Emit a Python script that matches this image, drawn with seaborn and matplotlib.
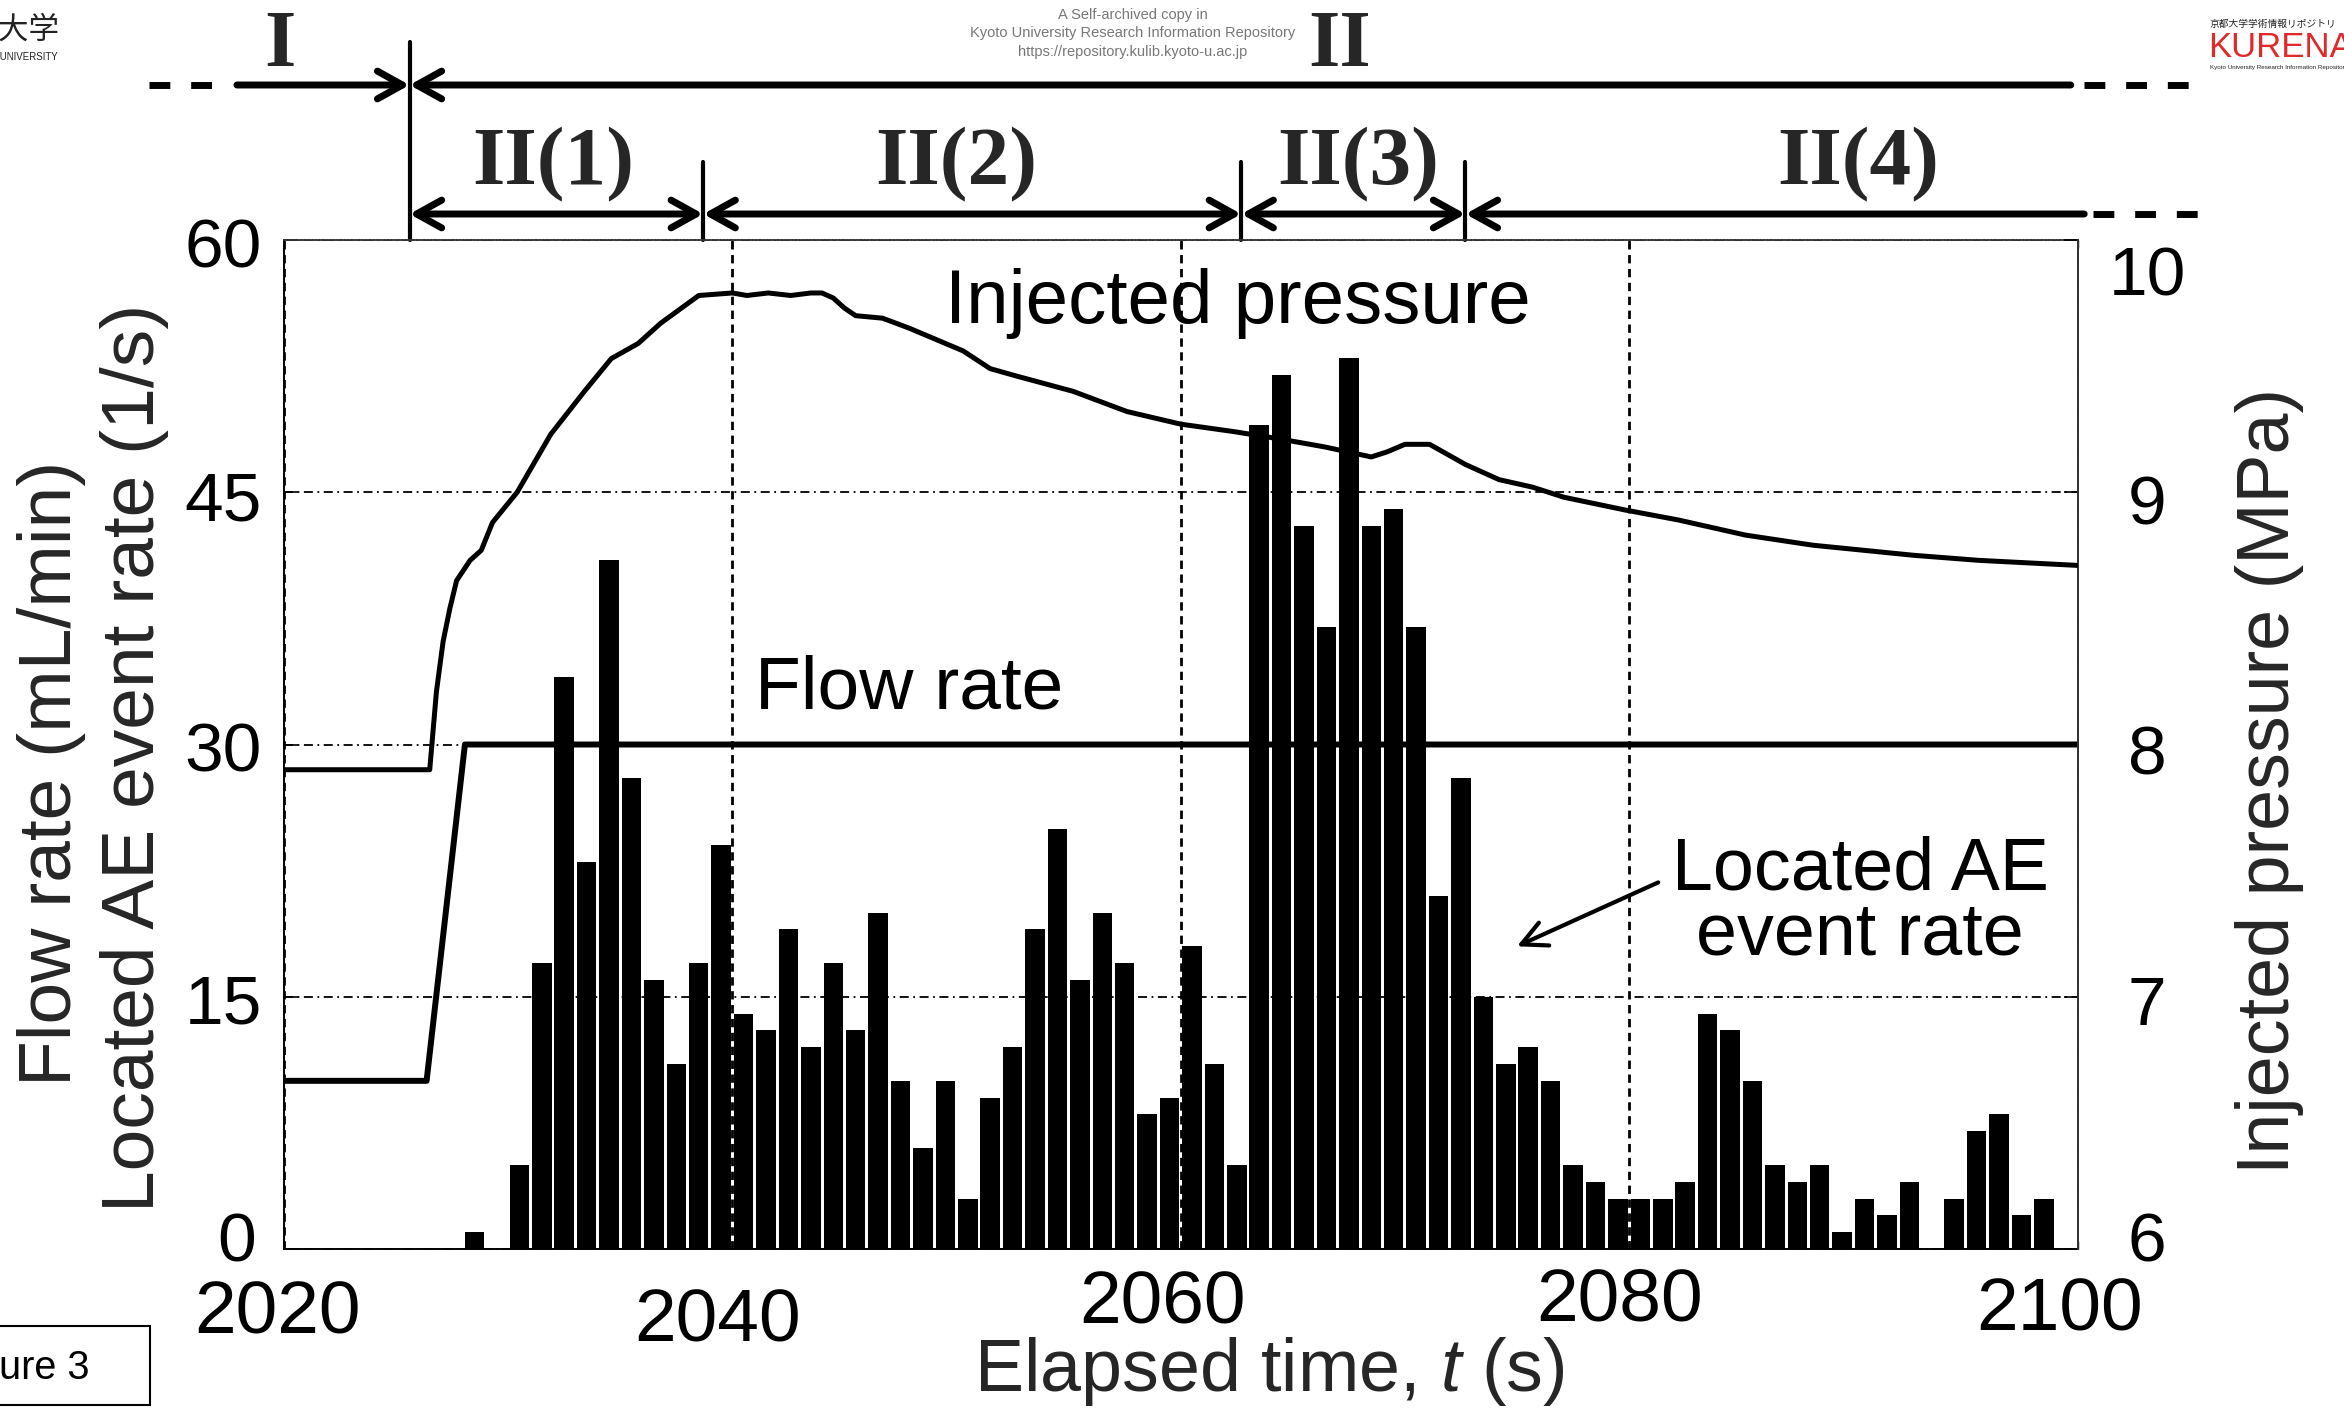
import numpy as np
import pandas as pd
import matplotlib
matplotlib.use("Agg")
import matplotlib.pyplot as plt
import matplotlib.patches as mpatches
import seaborn as sns
from matplotlib.transforms import blended_transform_factory, ScaledTranslation

# ---------------- data ----------------
bar_time = list(range(2020, 2100))
ae_rate = [0, 0, 0, 0, 0, 0, 0, 0, 1, 0,
           5, 17, 34, 23, 41, 28, 16, 11, 17, 24,
           14, 13, 19, 12, 17, 13, 20, 10, 6, 10,
           3, 9, 12, 19, 25, 16, 20, 17, 8, 9,
           18, 11, 5, 49, 52, 43, 37, 53, 43, 44,
           37, 21, 28, 15, 11, 12, 10, 5, 4, 3,
           3, 3, 4, 14, 13, 10, 5, 4, 5, 1,
           3, 2, 4, 0, 3, 7, 8, 2, 3, 0]

flow_time = [2020.0, 2026.36, 2028.07, 2100.0]
flow_rate = [10.0, 10.0, 30.0, 30.0]

pressure_time = [2020.0, 2026.5, 2026.8, 2027.1, 2027.4, 2027.7, 2028.3, 2028.8,
                 2029.3, 2030.4, 2031.9, 2033.4, 2034.6, 2035.8, 2036.8, 2038.5,
                 2040.0, 2040.65, 2041.6, 2042.6, 2043.5, 2044.0, 2044.5, 2045.0,
                 2045.5, 2046.7, 2047.9, 2050.3, 2051.5, 2052.7, 2055.2, 2057.6,
                 2060.0, 2062.4, 2064.5, 2066.4, 2068.5, 2069.2, 2070.0, 2071.1,
                 2072.7, 2074.2, 2075.7, 2077.1, 2079.8, 2082.2, 2085.2, 2088.2,
                 2092.7, 2095.6, 2100.0]
pressure_mpa = [7.90, 7.90, 8.21, 8.41, 8.54, 8.65, 8.73, 8.77,
                8.88, 9.00, 9.23, 9.40, 9.53, 9.59, 9.67, 9.78,
                9.79, 9.78, 9.79, 9.78, 9.79, 9.79, 9.77, 9.73,
                9.70, 9.69, 9.65, 9.56, 9.49, 9.46, 9.40, 9.32,
                9.27, 9.24, 9.21, 9.18, 9.14, 9.16, 9.19, 9.19,
                9.11, 9.05, 9.02, 8.98, 8.93, 8.89, 8.83, 8.79,
                8.75, 8.73, 8.71]

left_ticks = [0, 15, 30, 45, 60]
right_ticks = [6, 7, 8, 9, 10]
x_ticks = [2020, 2040, 2060, 2080, 2100]

stage_bounds = [2025.6, 2038.7, 2062.7, 2072.7]
substage_labels = ["II(1)", "II(2)", "II(3)", "II(4)"]
substage_label_x = [2032.0, 2050.0, 2067.9, 2090.2]
stage_labels = ["I", "II"]
stage_label_x = [2019.8, 2067.1]

# ---------------- style ----------------
sns.set_theme(style="white")
plt.rcParams["font.family"] = ["Liberation Sans", "DejaVu Sans"]
plt.rcParams["mathtext.fontset"] = "custom"
plt.rcParams["mathtext.rm"] = "Liberation Sans"
plt.rcParams["mathtext.it"] = "Liberation Sans:italic"

W, H = 2344, 1414
DPI = 100
fig = plt.figure(figsize=(W / DPI, H / DPI), dpi=DPI, facecolor="white")
ax_l, ax_r, ax_t, ax_b = 284 / W, 2077.5 / W, 1 - 240 / H, 1 - 1249 / H
ax = fig.add_axes([ax_l, ax_b, ax_r - ax_l, ax_t - ax_b])
ax.set_facecolor("white")

# bars
df_bar = pd.DataFrame({"t": np.array(bar_time) + 0.5, "rate": ae_rate})
sns.barplot(data=df_bar, x="t", y="rate", native_scale=True, width=0.87,
            color="black", saturation=1, linewidth=0, errorbar=None, ax=ax,
            zorder=2)

# flow rate
sns.lineplot(x=flow_time, y=flow_rate, ax=ax, color="black", lw=4.3, zorder=4)

ax.set_xlim(2020, 2100)
ax.set_ylim(0, 60)
ax.set_xticks(x_ticks)
ax.set_xticklabels([str(v) for v in x_ticks])
ax.set_yticks(left_ticks)
ax.set_yticklabels([str(v) for v in left_ticks])
ax.set_xlabel("")
ax.set_ylabel("")
ax.set_axisbelow(True)
ax.yaxis.grid(True, linestyle=(0, (5, 2.5, 1, 2.5)), lw=1.3, color="black")
ax.xaxis.grid(True, linestyle=(0, (3, 2)), lw=2.0, color="black")

ax.tick_params(axis="y", direction="in", length=10, width=1.2, labelsize=50,
               pad=16, left=True, colors="black")
ax.tick_params(axis="x", direction="in", length=6, width=1.0, labelsize=54,
               pad=22, bottom=True, top=True, colors="black")
for s in ["left", "bottom"]:
    ax.spines[s].set_color("black")
    ax.spines[s].set_linewidth(1.4)
for s in ["top", "right"]:
    ax.spines[s].set_color("#333333")
    ax.spines[s].set_linewidth(1.3)
    ax.spines[s].set_linestyle((0, (1.2, 0.8)))

# pressure on twin axis
ax2 = ax.twinx()
sns.lineplot(x=pressure_time, y=pressure_mpa, ax=ax2, color="black", lw=3.6,
             zorder=5)
ax2.set_ylim(6, 10)
ax2.set_xlim(2020, 2100)
ax2.set_yticks(right_ticks)
ax2.set_yticklabels([str(v) for v in right_ticks])
ax2.set_ylabel("")
ax2.grid(False)
ax2.tick_params(axis="y", direction="in", length=10, width=1.2, labelsize=50,
                pad=50, right=True, colors="black")
for s in ["left", "bottom", "top"]:
    ax2.spines[s].set_visible(False)
ax2.spines["right"].set_color("#333333")
ax2.spines["right"].set_linewidth(1.3)

# tick label fine positioning (offsets in pixels)
def shift(lbl, dx, dy):
    lbl.set_transform(lbl.get_transform() +
                      ScaledTranslation(dx / DPI, dy / DPI, fig.dpi_scale_trans))

x_off = [(-7, 0), (-15, -8), (-18, 10), (-10, 13), (-18, 3)]
for lbl, (dx, dy) in zip(ax.get_xticklabels(), x_off):
    shift(lbl, dx, dy)
l_off = [(-6, 12), (0, -2), (0, -2), (0, -3), (0, -3)]
for lbl, (dx, dy) in zip(ax.get_yticklabels(), l_off):
    shift(lbl, dx, dy)
for lbl in ax2.get_yticklabels():
    lbl.set_horizontalalignment("center")
r_off = [(0, 12), (0, -3), (0, -5), (0, -7), (0, -30)]
for lbl, (dx, dy) in zip(ax2.get_yticklabels(), r_off):
    shift(lbl, dx, dy)

# in-plot annotations
ax.text(2049.5, 56.2, "Injected pressure", fontsize=55, ha="left", va="center",
        color="black", zorder=6)
ax.text(2041.0, 33.3, "Flow rate", fontsize=54, ha="left", va="center",
        color="black", zorder=6)
ax.text(2090.3, 20.6, "Located AE\nevent rate", fontsize=53, ha="center",
        va="center", linespacing=0.92, color="black", zorder=6)
ax.annotate("", xy=(2075.0, 18.0), xytext=(2081.3, 21.8),
            arrowprops=dict(arrowstyle="->,head_length=0.9,head_width=0.45",
                            lw=3.0, color="black", mutation_scale=20,
                            shrinkA=0, shrinkB=0), zorder=6)

# axis labels
fig.text(52 / W, 1 - 773 / H, "Flow rate (mL/min)", rotation=90, fontsize=54,
         ha="center", va="center")
fig.text(135 / W, 1 - 758 / H, "Located AE event rate (1/s)", rotation=90,
         fontsize=54, ha="center", va="center")
fig.text(2269 / W, 1 - 781 / H, "Injected pressure (MPa)", rotation=90,
         fontsize=53, ha="center", va="center")
fig.text(1269 / W, 1 - 1372 / H, "Elapsed time, $\\mathit{t}$ (s)", fontsize=53,
         ha="center", va="center")

# stage annotations above the axes
trans = blended_transform_factory(ax.transData, fig.transFigure)
y_row1 = 1 - 85 / H
y_row2 = 1 - 214 / H
y_top1 = 1 - 42 / H
y_top2 = 1 - 162 / H
serif = ["Liberation Serif", "DejaVu Serif"]

def arrow(x1, x2, y, style):
    ax.annotate("", xy=(x2, y), xytext=(x1, y), xycoords=trans,
                textcoords=trans, annotation_clip=False,
                arrowprops=dict(arrowstyle=style + ",head_length=0.9,head_width=0.5",
                                lw=5, color="black", mutation_scale=20,
                                shrinkA=0, shrinkB=0))

def dashes(x1, x2, y):
    ax.plot([x1, x2], [y, y], transform=trans, color="black", lw=5,
            ls=(0, (3, 3)), clip_on=False, solid_capstyle="butt",
            dash_capstyle="butt")

# row 1: I / II
dashes(2014.0, 2017.2, y_row1)
arrow(2017.9, stage_bounds[0], y_row1, "->")
arrow(stage_bounds[0], 2099.7, y_row1, "<-")
dashes(2100.3, 2105.2, y_row1)
ax.plot([stage_bounds[0], stage_bounds[0]], [y_top1, ax_t], transform=trans,
        color="black", lw=3, clip_on=False)
for lab, xx in zip(stage_labels, stage_label_x):
    ax.text(xx, 1 - 47 / H, lab, transform=trans, fontsize=58, family=serif,
            fontweight="bold", ha="center", va="center", clip_on=False)

# row 2: sub-stages
for a, b in zip(stage_bounds[:-1], stage_bounds[1:]):
    arrow(a, b, y_row2, "<->")
arrow(stage_bounds[-1], 2100.3, y_row2, "<-")
dashes(2100.7, 2105.5, y_row2)
for b in stage_bounds[1:]:
    ax.plot([b, b], [y_top2, ax_t], transform=trans, color="black", lw=3,
            clip_on=False)
for lab, xx in zip(substage_labels, substage_label_x):
    ax.text(xx, 1 - 165 / H, lab, transform=trans, fontsize=60, family=serif,
            fontweight="bold", ha="center", va="center", clip_on=False)

# repository header / logos / figure tag
hdr_x = 1133 / W
fig.text(hdr_x, 1 - 15 / H, "A Self-archived copy in", fontsize=10.5,
         color="#777777", ha="center", va="center")
fig.text(hdr_x, 1 - 33 / H, "Kyoto University Research Information Repository",
         fontsize=10.5, color="#777777", ha="center", va="center")
fig.text(hdr_x, 1 - 52 / H, "https://repository.kulib.kyoto-u.ac.jp",
         fontsize=10.5, color="#777777", ha="center", va="center")
cjk = ["Noto Sans CJK JP", "DejaVu Sans"]
fig.text(60 / W, 1 - 30 / H, "京都大学", fontsize=22, family=cjk,
         ha="right", va="center", color="#222222")
fig.text(58 / W, 1 - 57 / H, "KYOTO UNIVERSITY", fontsize=7, ha="right",
         va="center", color="#222222")
fig.text(2210 / W, 1 - 24 / H, "京都大学学術情報リポジトリ", fontsize=7,
         family=cjk, ha="left", va="center", color="#222222")
fig.text(2208 / W, 1 - 57 / H, "KURENAI", fontsize=25, ha="left",
         va="baseline", color="#e02a2a")
fig.text(2210 / W, 1 - 67 / H, "Kyoto University Research Information Repository",
         fontsize=4.5, ha="left", va="center", color="#222222")
fig.patches.append(mpatches.Rectangle((-0.01, 1 - 1405 / H), 150 / W + 0.01,
                                      79 / H, transform=fig.transFigure,
                                      fill=False, lw=1.5, edgecolor="black"))
fig.text(90 / W, 1 - 1368 / H, "Figure 3", fontsize=28.5, ha="right",
         va="center", color="black")

fig.savefig("out.png", dpi=DPI, facecolor="white")
